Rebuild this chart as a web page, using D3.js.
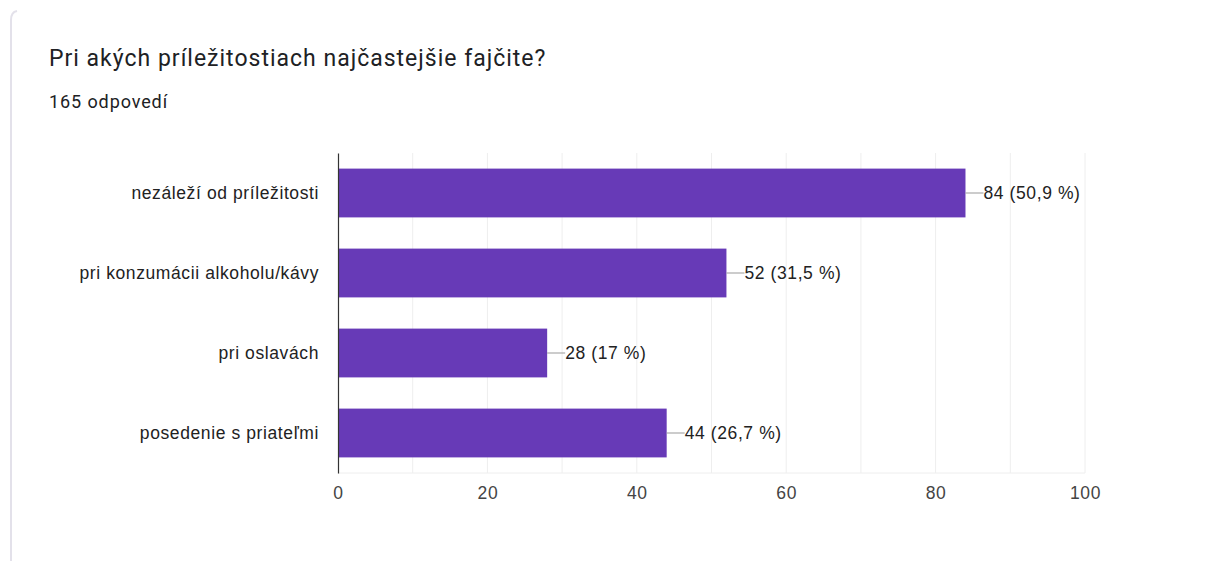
<!DOCTYPE html>
<html>
<head>
<meta charset="utf-8">
<script src="https://cdn.jsdelivr.net/npm/d3@7"></script>
<style>
  body { margin: 0; background: #fff; }
  svg { display: block; font-family: "Liberation Sans", Arial, sans-serif; }
</style>
</head>
<body>
<div id="chart"></div>
<script>
// chart data
const title = "Pri akých príležitostiach najčastejšie fajčite?";
const subtitle = "165 odpovedí";
const categories = ["nezáleží od príležitosti", "pri konzumácii alkoholu/kávy", "pri oslavách", "posedenie s priateľmi"];
const counts = [84, 52, 28, 44];
const percents = ["50,9", "31,5", "17", "26,7"];
const xTicks = [0, 20, 40, 60, 80, 100];

const width = 1215, height = 561;
const margin = { top: 153, left: 338, bottom: 88, right: 130 };
const labelSize = 17.5, labelSpacing = 0.6;

const svg = d3.select("#chart").append("svg")
    .attr("width", width)
    .attr("height", height);

// card edge on the left
svg.append("path")
    .attr("d", "M11,561 L11,20 Q11,12 17,11")
    .attr("fill", "none")
    .attr("stroke", "#e3e1ea")
    .attr("stroke-width", 2);

svg.append("text")
    .attr("x", 49).attr("y", 66)
    .attr("font-family", "Roboto, 'Liberation Sans', sans-serif")
    .attr("font-size", 23)
    .attr("letter-spacing", 1)
    .attr("fill", "#202124")
    .text(title);

svg.append("text")
    .attr("x", 49).attr("y", 108)
    .attr("font-family", "Roboto, 'Liberation Sans', sans-serif")
    .attr("font-size", 18)
    .attr("letter-spacing", 0.9)
    .attr("fill", "#202124")
    .text(subtitle);

const x = d3.scaleLinear()
    .domain([0, 100])
    .range([margin.left, width - margin.right]);

const y = d3.scaleBand()
    .domain(categories)
    .range([margin.top, height - margin.bottom])
    .paddingInner(0.39)
    .paddingOuter(0.195);

// gridlines every 10
svg.append("g")
    .selectAll("line")
    .data(d3.range(10, 101, 10))
    .join("line")
    .attr("x1", d => x(d)).attr("x2", d => x(d))
    .attr("y1", margin.top).attr("y2", height - margin.bottom)
    .attr("stroke", "#eeeeee");

svg.append("line")
    .attr("x1", x(0)).attr("x2", x(100))
    .attr("y1", height - margin.bottom).attr("y2", height - margin.bottom)
    .attr("stroke", "#eeeeee");

// bars
svg.append("g")
    .selectAll("rect")
    .data(categories)
    .join("rect")
    .attr("x", x(0))
    .attr("y", d => y(d))
    .attr("width", (d, i) => x(counts[i]) - x(0))
    .attr("height", y.bandwidth())
    .attr("fill", "#673ab7");

// leader lines and value labels
const labels = svg.append("g");
labels.selectAll("line")
    .data(categories)
    .join("line")
    .attr("x1", (d, i) => x(counts[i]))
    .attr("x2", (d, i) => x(counts[i]) + 18)
    .attr("y1", d => y(d) + y.bandwidth() / 2)
    .attr("y2", d => y(d) + y.bandwidth() / 2)
    .attr("stroke", "#999");

labels.selectAll("text")
    .data(categories)
    .join("text")
    .attr("x", (d, i) => x(counts[i]) + 18)
    .attr("y", d => y(d) + y.bandwidth() / 2)
    .attr("dy", "0.35em")
    .attr("font-size", labelSize)
    .attr("letter-spacing", labelSpacing)
    .attr("fill", "#222")
    .text((d, i) => `${counts[i]} (${percents[i]} %)`);

// category axis
const yAxis = svg.append("g")
    .attr("transform", `translate(${margin.left},0)`)
    .call(d3.axisLeft(y).tickSize(0).tickPadding(19));
yAxis.select(".domain").attr("stroke", "#333").attr("stroke-width", 1.2);
yAxis.selectAll("text")
    .attr("font-size", labelSize)
    .attr("letter-spacing", labelSpacing)
    .attr("fill", "#222")
    .attr("font-family", "'Liberation Sans', Arial, sans-serif");

// value axis
const xAxis = svg.append("g")
    .attr("transform", `translate(0,${height - margin.bottom})`)
    .call(d3.axisBottom(x).tickValues(xTicks).tickSize(0).tickPadding(14));
xAxis.select(".domain").remove();
xAxis.selectAll("text")
    .attr("font-size", labelSize)
    .attr("letter-spacing", labelSpacing)
    .attr("fill", "#444")
    .attr("font-family", "'Liberation Sans', Arial, sans-serif");
</script>
</body>
</html>
